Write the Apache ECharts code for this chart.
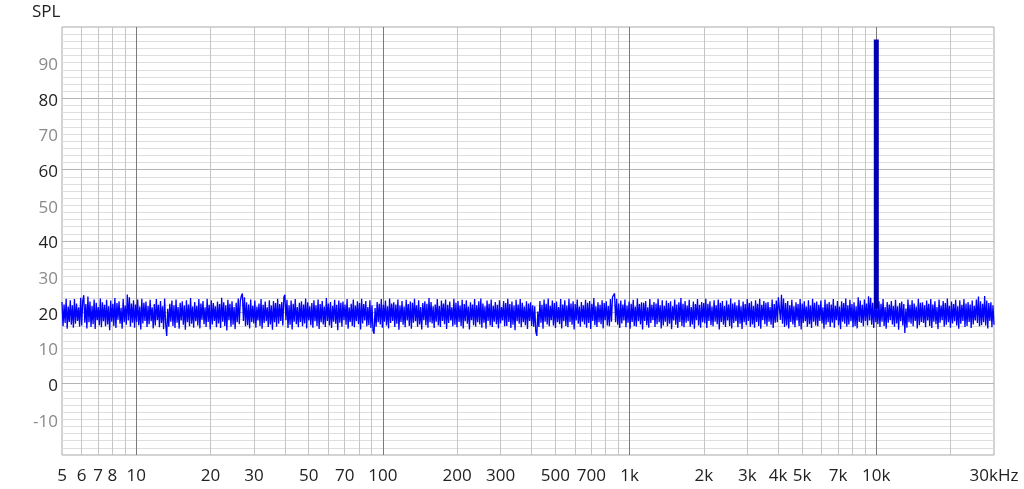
<!DOCTYPE html>
<html><head><meta charset="utf-8">
<script src="https://cdn.jsdelivr.net/npm/echarts@6/dist/echarts.min.js"></script>
<style>html,body{margin:0;padding:0;background:#fff}#c{width:1024px;height:489px}</style>
</head><body><div id="c"></div>
<script>
const freqMin = 5, freqMax = 30000;
const noiseSPL = [
22.9,16.1,22.2,17.0,23.8,15.4,21.6,17.3,23.4,16.5,
22.0,15.7,23.7,16.8,22.5,17.6,21.4,16.0,24.1,16.3,
23.2,24.8,17.1,22.3,15.5,24.4,17.2,23.0,15.9,21.8,
16.7,23.6,15.3,22.7,17.8,21.5,16.4,23.9,15.8,22.8,
17.5,22.1,16.1,23.5,16.6,21.7,15.0,23.3,17.4,22.4,
16.2,24.0,15.6,22.6,17.9,23.1,16.8,21.3,15.4,23.7,
17.2,21.9,16.5,25.0,17.7,24.2,16.0,22.5,17.1,23.4,
15.7,22.2,17.3,23.6,16.4,21.6,15.2,23.8,16.9,22.7,
17.6,23.0,15.9,21.8,16.7,23.5,17.5,21.4,15.5,22.3,
16.3,23.7,17.8,22.1,15.8,23.2,17.0,21.7,15.3,23.9,
16.6,13.4,21.0,16.0,22.4,17.4,23.3,16.2,22.0,15.6,
23.6,17.1,21.5,15.4,22.7,17.7,23.1,16.5,21.9,15.1,
23.4,17.2,22.2,16.1,24.0,16.8,21.6,15.7,22.9,17.5,
21.8,16.3,23.7,15.5,22.5,17.9,23.2,16.7,21.4,15.9,
23.8,17.3,22.1,15.2,23.4,16.6,22.6,17.6,21.7,15.8,
23.0,16.9,22.3,15.6,24.1,17.4,22.8,16.2,22.0,14.9,
23.5,17.8,22.4,16.0,23.1,16.5,21.5,15.3,22.7,17.2,
23.9,16.7,23.2,24.6,25.3,17.6,24.2,16.1,22.8,16.4,
22.2,15.5,23.6,17.3,21.8,16.9,23.3,15.7,21.6,17.7,
22.5,16.2,23.7,15.4,22.1,17.0,23.0,17.5,21.4,15.9,
23.4,16.6,21.9,15.1,23.2,17.2,22.6,16.0,23.8,16.8,
22.3,17.6,22.9,16.3,24.3,24.9,17.8,23.5,15.6,22.0,
16.5,23.3,15.2,22.4,17.4,23.7,16.7,21.5,15.8,22.7,
17.3,23.1,16.1,22.2,16.9,23.9,15.5,22.8,17.7,21.7,
16.4,22.6,15.7,23.4,17.5,22.0,16.2,23.6,15.3,22.3,
17.2,23.2,16.6,21.6,15.9,24.0,17.6,22.5,16.3,22.9,
15.6,21.8,17.4,23.5,16.8,22.1,15.0,23.3,17.1,22.7,
16.0,23.0,17.8,22.2,16.5,23.7,15.4,21.4,17.3,22.4,
16.2,23.6,15.8,21.9,17.5,23.1,16.7,22.6,15.2,23.8,
16.9,22.3,17.7,23.2,16.1,21.5,16.4,23.4,15.6,22.0,
14.8,14.0,21.2,16.0,22.9,17.2,22.4,16.6,23.7,15.7,
22.1,17.4,23.3,16.3,21.7,15.5,23.9,17.0,22.5,17.6,
22.8,15.9,22.2,16.8,23.6,15.1,21.9,17.3,23.2,16.5,
21.6,15.8,23.5,17.7,22.3,16.2,23.0,15.4,22.7,17.1,
23.8,17.5,22.0,16.0,23.4,16.6,21.5,15.2,22.6,17.8,
23.1,16.4,22.4,15.7,24.0,17.2,22.9,16.9,21.7,15.6,
22.2,17.4,23.7,16.3,21.8,15.9,23.3,17.6,22.5,16.7,
23.6,15.3,22.1,17.0,23.0,17.7,21.4,16.1,23.8,16.5,
22.7,15.8,23.2,17.3,21.9,16.2,23.5,15.5,22.3,17.5,
23.4,16.8,21.6,15.2,22.8,17.8,22.2,16.4,23.7,16.0,
22.0,17.2,23.1,16.6,23.9,15.7,22.5,17.1,21.7,15.4,
23.3,17.6,22.4,16.3,23.6,15.9,21.8,17.4,22.9,16.7,
22.1,15.5,23.4,16.9,21.5,17.7,23.2,16.1,22.6,16.2,
23.8,17.3,22.3,15.6,23.0,16.5,21.9,15.0,23.5,17.5,
22.2,16.8,23.7,15.8,22.7,17.2,21.6,16.4,23.1,15.3,
22.5,17.6,22.8,16.2,22.0,16.0,21.7,14.6,13.4,20.2,
15.9,23.2,17.1,22.1,15.4,23.6,17.4,22.4,16.6,23.9,
16.1,21.8,17.8,23.3,16.3,22.6,15.6,23.0,17.2,21.5,
16.7,23.7,15.5,22.2,17.5,23.4,16.2,21.9,15.8,23.8,
17.3,22.5,16.5,23.1,15.2,22.3,17.7,23.6,16.8,21.6,
16.0,22.9,17.4,22.0,16.6,23.5,15.7,22.7,17.0,23.2,
15.3,22.4,17.6,24.0,16.4,21.7,15.9,22.8,17.2,22.1,
16.7,23.4,15.5,22.6,17.8,23.1,16.3,21.8,16.1,23.7,
17.4,24.3,24.8,25.3,17.2,23.8,16.5,22.5,15.6,23.3,
16.9,22.2,17.7,23.6,15.8,21.9,17.1,23.0,15.4,22.4,
17.3,23.5,16.2,21.6,16.0,23.9,17.5,22.3,16.6,22.8,
15.2,22.7,17.6,23.2,16.4,21.4,15.7,23.7,17.0,22.1,
17.8,22.9,15.9,22.5,16.7,23.8,17.2,22.0,15.5,23.4,
16.3,21.8,17.4,23.3,16.1,22.6,16.8,23.1,15.3,21.7,
17.7,23.6,16.5,22.2,15.6,22.8,17.3,24.0,16.2,22.4,
15.8,23.2,17.1,21.9,17.5,23.5,16.0,21.5,16.6,23.0,
15.4,22.3,17.8,23.7,16.3,22.1,15.7,22.9,17.2,22.6,
16.9,23.8,15.6,22.4,17.6,23.1,16.4,21.6,16.1,23.4,
17.4,22.0,16.7,23.6,15.2,22.7,17.3,23.2,16.5,21.8,
15.9,23.3,17.7,22.2,16.2,23.9,15.5,22.5,17.0,22.8,
17.5,21.9,15.8,23.5,16.8,21.7,15.3,23.0,17.2,22.3,
16.4,23.7,17.6,22.6,16.0,23.1,16.6,21.8,15.7,23.4,
17.3,22.4,16.2,23.8,15.4,22.1,17.8,23.2,16.7,22.7,
16.1,22.9,17.4,21.5,16.5,23.6,15.6,22.3,17.1,23.3,
17.2,24.2,24.7,17.9,24.9,16.8,23.9,15.9,22.6,16.3,
23.2,15.5,22.0,17.3,23.5,16.6,21.7,15.8,22.8,17.7,
22.3,16.2,23.7,15.2,22.5,17.0,23.1,17.5,21.6,16.0,
23.4,16.7,21.9,15.6,23.8,17.4,22.7,16.3,23.0,16.1,
22.1,17.6,23.3,16.9,21.4,15.4,23.6,16.5,22.4,17.2,
22.9,15.9,22.2,17.1,23.7,15.7,21.8,17.8,23.2,16.4,
21.6,15.3,23.1,17.4,22.6,16.8,23.9,16.0,22.0,16.6,
23.5,17.5,22.3,15.8,22.8,16.2,21.7,15.5,24.2,17.3,
23.3,17.0,22.1,16.1,23.6,17.6,22.5,16.3,24.5,17.7,
24.1,16.5,22.7,15.6,23.4,17.2,21.9,16.7,23.1,15.9,
22.4,17.4,23.7,16.2,21.5,15.4,22.9,17.1,22.2,17.8,
23.2,16.6,21.8,16.0,23.5,16.9,21.7,15.1,22.6,17.5,
23.0,16.3,22.3,14.2,21.1,15.7,23.6,17.2,22.1,16.8,
23.4,16.1,22.5,17.6,21.6,15.5,23.8,16.4,22.7,17.3,
22.8,17.0,22.0,15.8,23.3,17.7,22.4,16.2,23.7,15.6,
22.2,17.4,23.1,16.7,21.5,15.3,23.6,17.1,21.9,17.8,
23.2,16.0,22.6,16.5,23.9,17.2,21.8,15.7,23.0,16.9,
22.3,17.5,23.5,16.3,21.7,15.4,23.4,16.8,22.1,17.6,
23.7,15.9,22.5,16.2,22.9,17.3,22.2,15.6,23.3,16.6,
21.8,17.7,23.6,17.0,24.4,16.1,23.1,16.4,22.4,17.2,
24.6,16.3,23.3,15.5,22.6,17.6,22.8,15.8,22.0,16.5
];
const toneFreq = 10000;
const toneSPL = [21, 96.5];
const xGridFreqs = [6,7,8,9,10,20,30,40,50,60,70,80,90,100,200,300,400,500,600,700,800,900,
  1000,2000,3000,4000,5000,6000,7000,8000,9000,10000,20000];
const xDecadeFreqs = [10,100,1000,10000];
const xLabelFreqs = [5,6,7,8,10,20,30,50,70,100,200,300,500,700,1000,2000,3000,4000,5000,7000,10000,30000];
const yLabelValues = [-10,0,10,20,30,40,50,60,70,80,90];
const yGridValues = [-18,-16,-14,-12,-10,-8,-6,-4,-2,0,2,4,6,8,10,12,14,16,18,20,22,24,26,28,30,
  32,34,36,38,40,42,44,46,48,50,52,54,56,58,60,62,64,66,68,70,72,74,76,78,80,82,84,86,88,90,92,94,96,98];

const lg = Math.log10;
const n = noiseSPL.length;
const noiseData = noiseSPL.map((v, i) => [lg(freqMin) + (lg(freqMax) - lg(freqMin)) * i / (n - 1), v]);
const toneData = toneSPL.map(v => [lg(toneFreq), v]);

const FONT = '"Open Sans", "Noto Sans", sans-serif';
const chart = echarts.init(document.getElementById('c'), null, {renderer: 'canvas'});
chart.setOption({
  animation: false,
  backgroundColor: '#ffffff',
  title: {text: 'SPL', left: 32, top: 4, padding: 0,
    textStyle: {fontFamily: FONT, fontSize: 17, fontWeight: 'normal', color: '#222'}},
  grid: {left: 62, right: 30, top: 27, bottom: 34, show: true, borderColor: '#a8a8a8', borderWidth: 1,
    outerBoundsMode: 'none'},
  xAxis: {
    type: 'value', min: lg(freqMin), max: lg(freqMax),
    axisLine: {show: false},
    axisTick: {show: false, customValues: xGridFreqs.map(lg)},
    axisLabel: {customValues: xLabelFreqs.map(lg), margin: 13, fontFamily: FONT, fontSize: 17, color: '#222',
      formatter: v => { const f = Math.round(Math.pow(10, v)); if (f === freqMax) return '30kHz';
        return f >= 1000 ? (f / 1000) + 'k' : String(f); }},
    splitLine: {show: true, lineStyle: {width: 1,
      color: xGridFreqs.map(f => xDecadeFreqs.includes(f) ? '#7a7a7a' : '#c4c4c4')}}
  },
  yAxis: {
    type: 'value', min: -20, max: 100,
    axisLine: {show: false},
    axisTick: {show: false, customValues: yGridValues},
    axisLabel: {customValues: yLabelValues, margin: 4, verticalAlign: 'top', lineHeight: 5,
      fontFamily: FONT, fontSize: 17,
      color: v => (Number(v) % 20 === 0 ? '#222' : '#8a8a8a')},
    splitLine: {show: true, lineStyle: {width: 1,
      color: yGridValues.map(v => (v % 20 === 0 ? '#b4b4b4' : '#dedede'))}}
  },
  series: [
    {type: 'line', data: noiseData, showSymbol: false, symbol: 'none', sampling: null,
      lineStyle: {color: '#0000ff', width: 1.3}, z: 3},
    {type: 'line', data: toneData, showSymbol: false, symbol: 'none',
      lineStyle: {color: '#0000b0', width: 5, cap: 'butt'}, z: 4}
  ]
});
</script></body></html>
